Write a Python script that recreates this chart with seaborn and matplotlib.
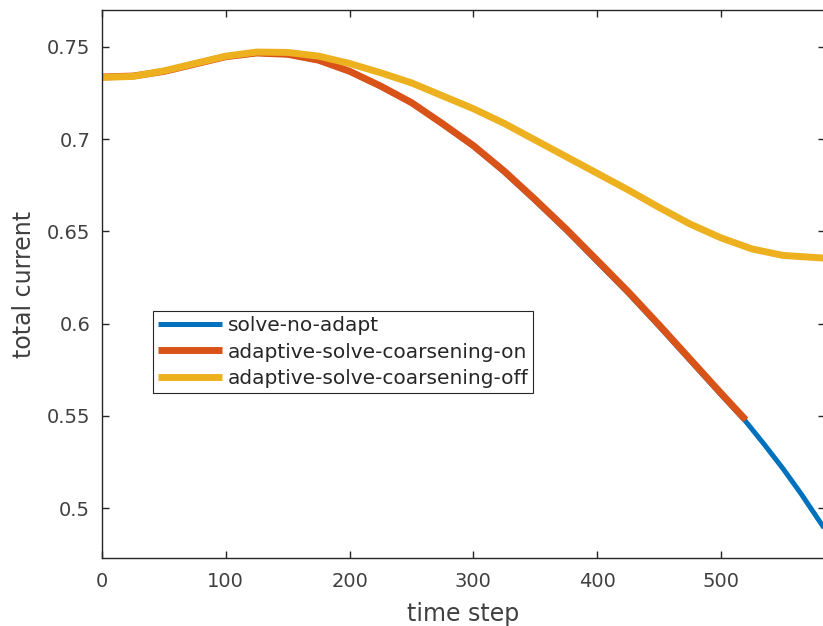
import numpy as np
import pandas as pd
import matplotlib
matplotlib.use("Agg")
import matplotlib.pyplot as plt
import seaborn as sns

# ---- data ----
steps_full = [0, 25, 50, 75, 100, 125, 150, 175, 200, 225, 250, 275, 300, 325,
              350, 375, 400, 425, 450, 475, 500, 520, 535, 550, 565, 584]
no_adapt = [0.7335, 0.7340, 0.7365, 0.7405, 0.7445, 0.7465, 0.7458, 0.7425,
            0.7365, 0.7285, 0.7195, 0.7080, 0.6960, 0.6820, 0.6665, 0.6505,
            0.6335, 0.6165, 0.5985, 0.5800, 0.5615, 0.5470, 0.5345, 0.5215,
            0.5075, 0.4885]

steps_on = steps_full[:22]
coarsening_on = [0.7337, 0.7342, 0.7367, 0.7407, 0.7447, 0.7467, 0.7460, 0.7428,
                 0.7368, 0.7288, 0.7198, 0.7084, 0.6965, 0.6826, 0.6672, 0.6512,
                 0.6343, 0.6173, 0.5993, 0.5808, 0.5623, 0.5478]

steps_off = [0, 25, 50, 75, 100, 125, 150, 175, 200, 225, 250, 275, 300, 325,
             350, 375, 400, 425, 450, 475, 500, 525, 550, 584]
coarsening_off = [0.7335, 0.7340, 0.7370, 0.7410, 0.7450, 0.7472, 0.7470, 0.7450,
                  0.7410, 0.7360, 0.7305, 0.7235, 0.7165, 0.7085, 0.6995, 0.6905,
                  0.6815, 0.6725, 0.6630, 0.6540, 0.6465, 0.6405, 0.6370, 0.6355]

labels = ["solve-no-adapt", "adaptive-solve-coarsening-on", "adaptive-solve-coarsening-off"]
colors = ["#0072BD", "#D95319", "#EDB120"]
widths = [3.6, 5.0, 5.0]

df = pd.concat([
    pd.DataFrame({"step": steps_full, "current": no_adapt, "run": labels[0]}),
    pd.DataFrame({"step": steps_on, "current": coarsening_on, "run": labels[1]}),
    pd.DataFrame({"step": steps_off, "current": coarsening_off, "run": labels[2]}),
])

# ---- plotting ----
sns.set_style("white")
plt.rcParams["font.family"] = ["DejaVu Sans"]
text_col = "#404040"

fig = plt.figure(figsize=(8.23, 6.26), dpi=100)
ax = fig.add_axes([102 / 823, 1 - 558 / 626, 723 / 823, 548 / 626])

for lab, col, lw in zip(labels, colors, widths):
    sns.lineplot(data=df[df["run"] == lab], x="step", y="current", ax=ax,
                 color=col, linewidth=lw, label=lab, estimator=None,
                 solid_capstyle="butt")

ax.set_xlim(0, 584)
ax.set_ylim(0.473, 0.770)
ax.set_xticks([0, 100, 200, 300, 400, 500])
ax.set_yticks([0.5, 0.55, 0.6, 0.65, 0.7, 0.75])
ax.set_yticklabels(["0.5", "0.55", "0.6", "0.65", "0.7", "0.75"])

ax.tick_params(direction="in", length=5, width=1, colors="#262626",
               labelcolor=text_col, labelsize=14, top=True, right=True,
               bottom=True, left=True)
ax.tick_params(axis="x", pad=10)
ax.tick_params(axis="y", pad=8.5)
for s in ax.spines.values():
    s.set_color("#262626")
    s.set_linewidth(1)
    s.set_visible(True)

ax.set_xlabel("time step", fontsize=17, color=text_col, labelpad=8)
ax.set_ylabel("total current", fontsize=17, color=text_col, labelpad=8)

leg = ax.legend(loc="upper left", bbox_to_anchor=(0.0705, 0.4507),
                borderaxespad=0, fontsize=14.5, handlelength=3.2,
                handletextpad=0.25, labelspacing=0.37, borderpad=0.25,
                fancybox=False, framealpha=1)
leg.get_frame().set_edgecolor("#262626")
leg.get_frame().set_linewidth(0.8)
for t in leg.get_texts():
    t.set_color("#262626")

fig.savefig("out.png", dpi=100)
